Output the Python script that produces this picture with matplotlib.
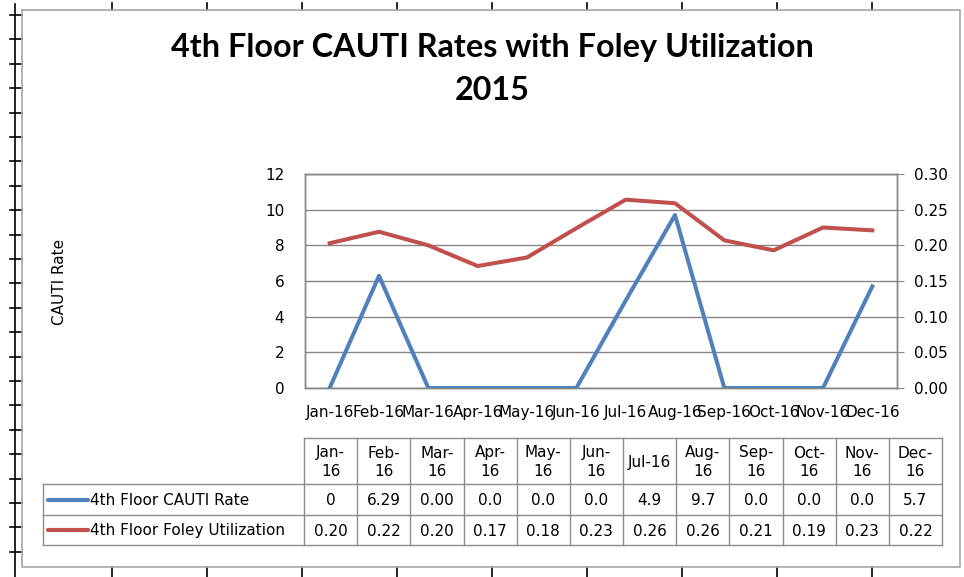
import matplotlib
matplotlib.use("Agg")
import matplotlib.pyplot as plt
from matplotlib.ticker import FormatStrFormatter, MultipleLocator

plt.rcParams['font.family'] = ['DejaVu Sans']
TITLE_FONT = ['Lato', 'DejaVu Sans']

# ---------------- data ----------------
months = ['Jan-16', 'Feb-16', 'Mar-16', 'Apr-16', 'May-16', 'Jun-16',
          'Jul-16', 'Aug-16', 'Sep-16', 'Oct-16', 'Nov-16', 'Dec-16']
header_labels = ['Jan-\n16', 'Feb-\n16', 'Mar-\n16', 'Apr-\n16', 'May-\n16', 'Jun-\n16',
                 'Jul-16', 'Aug-\n16', 'Sep-\n16', 'Oct-\n16', 'Nov-\n16', 'Dec-\n16']
cauti_rate = [0, 6.29, 0.0, 0.0, 0.0, 0.0, 4.9, 9.7, 0.0, 0.0, 0.0, 5.7]
foley_util = [0.203, 0.219, 0.200, 0.171, 0.183, 0.224, 0.264, 0.259, 0.207, 0.193, 0.225, 0.221]
cauti_text = ['0', '6.29', '0.00', '0.0', '0.0', '0.0', '4.9', '9.7', '0.0', '0.0', '0.0', '5.7']
foley_text = ['0.20', '0.22', '0.20', '0.17', '0.18', '0.23', '0.26', '0.26', '0.21', '0.19', '0.23', '0.22']
series_names = ['4th Floor CAUTI Rate', '4th Floor Foley Utilization']
title_text = '4th Floor CAUTI Rates with Foley Utilization\n2015'

BLUE = '#4F81BD'
RED = '#C0504D'
GRID = '#868686'
FS = 11

W, H = 964, 577
fig = plt.figure(figsize=(W / 100, H / 100), dpi=100)

# overlay in pixel coordinates
ov = fig.add_axes([0, 0, 1, 1], zorder=0)
ov.set_xlim(0, W)
ov.set_ylim(H, 0)
ov.axis('off')

# spreadsheet ruler artifacts
ov.plot([15, 15], [4, H], color='black', lw=1.2)
y = 15.0
while y < 560:
    ov.plot([10, 22], [y, y], color='black', lw=1.2)
    y += 24.4
for k in range(9):
    x = 112 + 95 * k
    ov.plot([x, x], [3, 10], color='black', lw=1.2)
    ov.plot([x, x], [567, H], color='black', lw=1.2)

# chart border
ov.plot([22, 960, 960, 22, 22], [10, 10, 567, 567, 10], color='#A6A6A6', lw=1.2)

# title
ov.text(492, 69, title_text, ha='center', va='center', fontsize=23.3,
        fontweight='bold', linespacing=1.55, color='black', family=TITLE_FONT)

# y label
ov.text(60, 282, 'CAUTI Rate', rotation=90, ha='center', va='center', fontsize=FS)

# ---------------- plot area ----------------
pl, pr, pt, pb = 305, 897, 174, 388
ax = fig.add_axes([pl / W, 1 - pb / H, (pr - pl) / W, (pb - pt) / H], zorder=2)
ax.set_facecolor('none')
x = list(range(len(months)))
ax.plot(x, cauti_rate, color=BLUE, lw=2.9, zorder=3)
ax.set_xlim(-0.5, len(months) - 0.5)
ax.set_ylim(0, 12)
ax.yaxis.set_major_locator(MultipleLocator(2))
ax.grid(axis='y', color=GRID, lw=1)
ax.set_axisbelow(True)
ax.set_xticks(x)
ax.set_xticklabels(months, fontsize=FS)
ax.tick_params(axis='x', length=0, pad=12)
ax.tick_params(axis='y', length=0, pad=15, labelsize=FS)
for s in ax.spines.values():
    s.set_color(GRID)
    s.set_linewidth(1)

ax2 = ax.twinx()
ax2.plot(x, foley_util, color=RED, lw=2.9, zorder=3)
ax2.set_ylim(0, 0.30)
ax2.yaxis.set_major_locator(MultipleLocator(0.05))
ax2.yaxis.set_major_formatter(FormatStrFormatter('%.2f'))
ax2.tick_params(axis='y', length=5, color=GRID, pad=7, labelsize=FS)
for s in ax2.spines.values():
    s.set_color(GRID)
    s.set_linewidth(1)

# ---------------- data table ----------------
tl, tr = 304, 942
leg_left = 43
n = len(months)
colw = (tr - tl) / n
r0, r1, r2, r3 = 438, 484, 515, 545
tc = '#8C8C8C'
ov.plot([tl, tr], [r0, r0], color=tc, lw=1)
for yy in (r1, r2, r3):
    ov.plot([leg_left, tr], [yy, yy], color=tc, lw=1)
ov.plot([leg_left, leg_left], [r1, r3], color=tc, lw=1)
for i in range(n + 1):
    xx = tl + i * colw
    ov.plot([xx, xx], [r0, r3], color=tc, lw=1)
for i in range(n):
    cx = tl + (i + 0.5) * colw
    ov.text(cx, (r0 + r1) / 2 + 1, header_labels[i], ha='center', va='center',
            fontsize=FS, linespacing=1.25)
    ov.text(cx, (r1 + r2) / 2 + 1, cauti_text[i], ha='center', va='center', fontsize=FS)
    ov.text(cx, (r2 + r3) / 2 + 1, foley_text[i], ha='center', va='center', fontsize=FS)
for (ya, yb), name, col in zip([(r1, r2), (r2, r3)], series_names, [BLUE, RED]):
    yc = (ya + yb) / 2
    ov.plot([48, 88], [yc, yc], color=col, lw=3.0, solid_capstyle='round')
    ov.text(90, yc + 1, name, ha='left', va='center', fontsize=FS)

fig.savefig('out.png', dpi=100)
